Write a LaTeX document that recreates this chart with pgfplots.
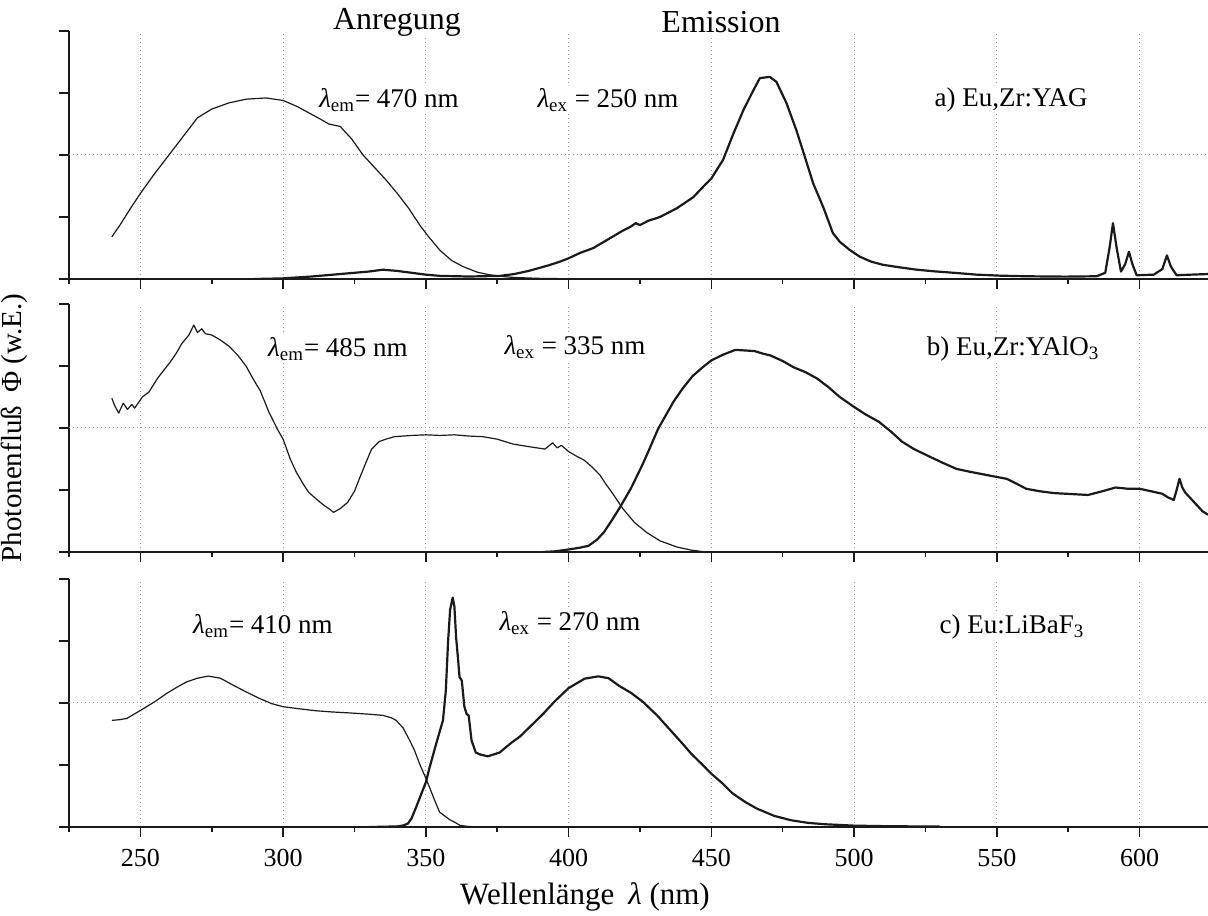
\documentclass[border=0pt]{standalone}
\usepackage{fontspec}
\setmainfont{Liberation Serif}
\usepackage{pgfplots}
\pgfplotsset{compat=1.18}
\definecolor{ink}{HTML}{1A1A1A}
\pgfplotsset{
  panel/.style={
    scale only axis, width=569.5pt, height=124pt,
    xmin=225, xmax=624, ymin=0, ymax=2,
    axis x line*=bottom, axis y line*=left,
    axis line style={line width=1pt, draw=ink, -},
    xtick={250,300,...,600}, minor xtick={225,275,...,600},
    ytick={0,0.5,1.5,2}, yticklabels={},
    extra y ticks={1}, extra y tick labels={}, extra y tick style={grid=major},
    xmajorgrids=true,
    grid style={gray!75, line width=0.5pt, dash pattern=on 0.6pt off 1.4pt},
    tick align=outside,
    major tick length=5pt, minor tick length=2.5pt,
    tick style={line width=0.8pt, draw=ink},
    /pgf/number format/assume math mode=true,
    xticklabel style={font=\fontsize{13}{13}\selectfont, yshift=-2.5pt},
    clip=true,
  },
  ex/.style={line width=0.6pt, draw=ink, mark=none, line join=round},
  em/.style={line width=1.1pt, draw=ink, mark=none, line join=round},
}
\tikzset{lab/.style={fill=white, inner sep=1pt, font=\fontsize{13.5}{14}\selectfont}}
\begin{document}
\begin{tikzpicture}
\path[use as bounding box] (0,0) rectangle (604pt,457.5pt);
% ---------------- panel a
\begin{axis}[panel, at={(34.5pt,318pt)}, anchor=south west, xticklabels={}]
\addplot[ex] coordinates {
(240,0.34)(243,0.44)(246,0.55)(250,0.69)(255,0.85)(260,1.00)(265,1.15)(270,1.30)
(275,1.37)(281,1.42)(287,1.45)(294,1.46)(300,1.44)(305,1.39)(309,1.34)(313,1.29)
(316,1.25)(320,1.23)(324,1.13)(328,1.00)(332,0.90)(336,0.80)(340,0.69)(344,0.57)
(348,0.43)(351,0.34)(355,0.23)(359,0.15)(363,0.10)(368,0.055)(372,0.035)(377,0.02)
(381,0.012)(390,0.005)(400,0.002)(410,0)};
\addplot[em] coordinates {
(290,0.0)(300,0.005)(310,0.02)(320,0.04)(330,0.06)(335,0.075)(340,0.065)(345,0.05)
(350,0.035)(355,0.025)(365,0.02)(376,0.025)(381,0.04)(386,0.065)(393,0.11)(397,0.14)
(400,0.167)(404,0.21)(408.7,0.25)(414.6,0.33)(419,0.39)(421.6,0.42)(423.5,0.45)(425,0.435)
(428,0.47)(432,0.50)(437.9,0.57)(443.7,0.66)(447.2,0.745)(450,0.81)(454.1,0.96)(457.7,1.17)
(461.2,1.36)(464.7,1.52)(467,1.62)(470.5,1.63)(472.8,1.59)(476.3,1.42)(479.8,1.20)(482.7,0.99)
(485.7,0.77)(489.2,0.58)(492.6,0.37)(495,0.30)(498.5,0.234)(502,0.18)(506,0.14)(510,0.115)
(516,0.094)(522,0.075)(528,0.062)(535,0.05)
(543,0.035)(551,0.027)(560,0.022)(574,0.019)(585,0.022)(588,0.05)(589.5,0.25)
(590.7,0.45)(592,0.25)(593.5,0.06)(595,0.12)(596.3,0.22)(597.5,0.12)(599,0.03)
(605,0.035)(608,0.08)(609.6,0.19)(611,0.10)(613,0.03)(618,0.035)(624,0.04)};
\end{axis}
% ---------------- panel b
\begin{axis}[panel, at={(34.5pt,181.5pt)}, anchor=south west, xticklabels={}]
\addplot[ex] coordinates {
(240,1.24)(241,1.18)(242.4,1.12)(244,1.20)(245.5,1.15)(247,1.19)(248,1.16)(250.7,1.25)
(253,1.29)(256,1.40)(258,1.46)(260.4,1.53)(262.5,1.60)(264.5,1.68)(267,1.75)(268.7,1.83)
(270,1.77)(271.5,1.80)(272.8,1.76)(275,1.75)(278,1.71)(281,1.66)(284,1.59)(287,1.50)
(289.4,1.40)(292,1.30)(295,1.13)(298,0.99)(300,0.91)(302.5,0.75)(304.6,0.645)(307,0.55)
(309,0.48)(312,0.42)(314.3,0.376)(316,0.35)(317.7,0.32)(320,0.35)(322.6,0.40)(325,0.49)
(326.7,0.59)(329,0.72)(331,0.83)(333.6,0.89)(336,0.91)(339,0.93)(345,0.94)(350,0.945)
(355,0.94)(360,0.945)(365,0.935)(370,0.93)(375,0.91)(380.6,0.87)(386,0.85)(391.7,0.83)
(394.4,0.88)(396,0.84)(397.5,0.86)(400,0.81)(403,0.77)(405.5,0.74)(408,0.69)(411,0.62)
(413,0.55)(415.2,0.48)(419,0.35)(423,0.24)(427.2,0.16)(432,0.09)(438,0.04)(443,0.015)(448,0)};
\addplot[em] coordinates {
(391,0.0)(395,0.005)(400,0.02)(404,0.035)(407,0.05)(410,0.10)(412.4,0.16)(415,0.25)
(418,0.36)(422,0.52)(425.8,0.70)(428.5,0.84)(431.3,0.99)(434,1.10)(436.7,1.21)(440,1.32)
(443.5,1.42)(447,1.49)(450,1.545)(454,1.59)(458.4,1.63)(462,1.625)(465.2,1.62)(468,1.60)
(470.7,1.585)(475,1.54)(478.8,1.49)(483,1.45)(487,1.40)(491,1.33)(495,1.25)(500,1.17)
(504,1.11)(508.7,1.05)(513,0.97)(516.8,0.89)(521,0.83)(526.4,0.77)(531,0.72)(535.9,0.67)
(541,0.645)(546.7,0.62)(550,0.605)(553.5,0.59)(557,0.55)(560.3,0.51)(565,0.49)(570,0.475)
(574,0.47)(578,0.465)(582,0.46)(587,0.49)(591.6,0.52)(596,0.51)(600,0.51)(604,0.49)
(607.9,0.47)(610,0.44)(612,0.42)(613,0.50)(614,0.59)(615,0.52)(616,0.48)(618,0.43)
(620,0.38)(622,0.33)(624,0.30)};
\end{axis}
% ---------------- panel c
\begin{axis}[panel, at={(34.5pt,44pt)}, anchor=south west]
\addplot[ex] coordinates {
(240,0.86)(242.5,0.865)(245.2,0.875)(250,0.94)(255,1.01)(259.2,1.077)(263,1.13)(266.2,1.17)
(270,1.20)(273.8,1.217)(278,1.20)(282.5,1.144)(287,1.09)(291.8,1.036)(296,0.995)(300,0.97)
(305,0.955)(311.7,0.937)(317,0.928)(323.3,0.92)(330,0.91)(335,0.90)(338,0.88)(339.6,0.86)
(342,0.80)(344.3,0.70)(346,0.62)(347.8,0.51)(349.5,0.42)(351.3,0.32)(353,0.22)(354.8,0.12)
(356,0.10)(358.3,0.06)(360,0.04)(362,0.013)(365,0.004)(370,0)};
\addplot[em] coordinates {
(330,0.0)(335,0.002)(340,0.005)(342,0.012)(343.7,0.027)(345,0.07)(346.6,0.16)(348.3,0.26)
(350,0.36)(351.2,0.47)(353.6,0.67)(356,0.86)(357,1.1)(357.8,1.50)(358.5,1.75)(359.4,1.85)
(360,1.78)(360.6,1.53)(361.3,1.35)(361.8,1.21)(362.6,1.18)(363.5,0.97)(364.3,0.91)(365,0.90)
(366,0.70)(367.5,0.60)(369,0.585)(371.7,0.57)(375.8,0.60)(380,0.68)(383,0.73)(387,0.82)
(391,0.91)(395,1.01)(400,1.12)(405.6,1.196)(410.4,1.215)(414,1.20)(417.6,1.14)(422,1.08)
(426,1.01)(431,0.90)(435.7,0.78)(440,0.67)(443,0.59)(447,0.50)(450,0.43)(454,0.35)
(457.5,0.27)(462,0.20)(466,0.148)(472,0.09)(478,0.054)(484,0.033)(490,0.022)(500,0.011)
(510,0.007)(520,0.005)(530,0.004)};
\end{axis}
% ---------------- texts
\node[lab, font=\fontsize{16}{16}\selectfont] at (198.5pt,446.5pt) {Anregung};
\node[lab, font=\fontsize{16}{16}\selectfont] at (360.5pt,446.5pt) {Emission};
\node[lab] at (194.5pt,407.5pt) {{\itshape λ}\textsubscript{em}= 470 nm};
\node[lab] at (304pt,407.5pt) {{\itshape λ}\textsubscript{ex} = 250 nm};
\node[lab] at (505.5pt,407.5pt) {a) Eu,Zr:YAG};
\node[lab] at (169pt,283pt) {{\itshape λ}\textsubscript{em}= 485 nm};
\node[lab] at (287.5pt,284pt) {{\itshape λ}\textsubscript{ex} = 335 nm};
\node[lab] at (506.5pt,283pt) {b) Eu,Zr:YAlO\textsubscript{3}};
\node[lab] at (131.5pt,144.5pt) {{\itshape λ}\textsubscript{em}= 410 nm};
\node[lab] at (285pt,146pt) {{\itshape λ}\textsubscript{ex} = 270 nm};
\node[lab] at (506pt,144pt) {c) Eu:LiBaF\textsubscript{3}};
\node[font=\fontsize{15.5}{16}\selectfont] at (292.5pt,9pt) {Wellenlänge\hspace{0.45em}{\itshape λ} (nm)};
\node[font=\fontsize{14.5}{15}\selectfont, rotate=90] at (7pt,243.5pt) {Photonenfluß\hspace{0.45em}Φ (w.E.)};
\end{tikzpicture}
\end{document}
